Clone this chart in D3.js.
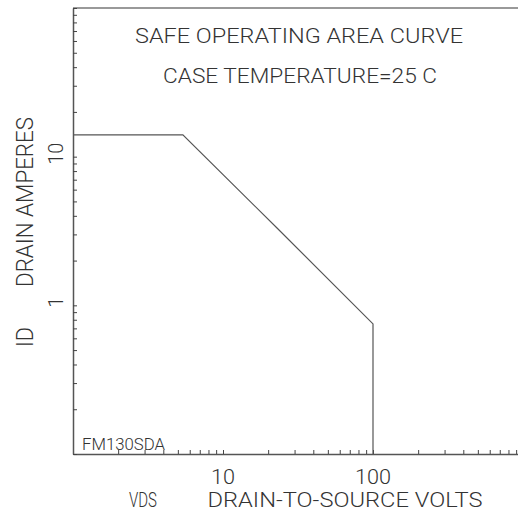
<!DOCTYPE html>
<html>
<head>
<meta charset="utf-8">
<title>Safe operating area curve</title>
<style>
  body { margin: 0; background: #fff; }
  text { font-family: Roboto, "DejaVu Sans", sans-serif; font-weight: 300; fill: #333; }
</style>
</head>
<body>
<svg width="518" height="518"></svg>
<script src="https://d3js.org/d3.v7.min.js"></script>
<script>
// curve corners
var vds = [1, 5.4, 23, 100, 100];
var drainAmps = [14, 14, 3.3, 0.75, 0.1];

var xLabels = [10, 100];
var yLabels = [1, 10];

var svg = d3.select("svg");

// plot box: x = 1 at the left axis, 1000 falls just past the window edge
var x = d3.scaleLog().domain([1, 1000]).range([73, 523]);
var y = d3.scaleLog().domain([0.1, 100]).range([454, 8]);

var axisColor = "#555";

// top frame line
svg.append("line")
    .attr("x1", x(1)).attr("x2", x(1000))
    .attr("y1", y(100)).attr("y2", y(100))
    .attr("stroke", "#777").attr("stroke-width", 1.5);

var gx = svg.append("g")
    .attr("transform", "translate(0," + y(0.1) + ")")
    .call(d3.axisBottom(x)
        .tickValues(x.ticks())
        .tickSizeInner(-4)
        .tickSizeOuter(0)
        .tickFormat(function() { return ""; }));
gx.select(".domain").attr("stroke", axisColor).attr("stroke-width", 1.5);
gx.selectAll(".tick line").attr("stroke", "#444").attr("stroke-width", 1);

var gy = svg.append("g")
    .attr("transform", "translate(" + x(1) + ",0)")
    .call(d3.axisLeft(y)
        .tickValues(y.ticks())
        .tickSizeInner(-4)
        .tickSizeOuter(0)
        .tickFormat(function() { return ""; }));
gy.select(".domain").attr("stroke", axisColor).attr("stroke-width", 1.5);
gy.selectAll(".tick line").attr("stroke", "#444").attr("stroke-width", 1);

// tick labels
svg.selectAll(".xlab")
    .data(xLabels)
  .enter().append("text")
    .attr("class", "xlab")
    .attr("x", function(d) { return x(d); })
    .attr("y", 484)
    .attr("text-anchor", "middle")
    .attr("font-size", 20)
    .attr("textLength", function(d) { return String(d).length * 12; })
    .attr("lengthAdjust", "spacingAndGlyphs")
    .text(function(d) { return d; });

svg.selectAll(".ylab")
    .data(yLabels)
  .enter().append("text")
    .attr("class", "ylab")
    .attr("transform", function(d) { return "translate(63," + (y(d) - 3) + ") rotate(-90)"; })
    .attr("text-anchor", "middle")
    .attr("font-size", 21)
    .attr("textLength", function(d) { return String(d).length * 11; })
    .attr("lengthAdjust", "spacingAndGlyphs")
    .text(function(d) { return d; });

// the curve
var line = d3.line()
    .x(function(d, i) { return x(vds[i]); })
    .y(function(d, i) { return y(drainAmps[i]); });

svg.append("path")
    .datum(vds)
    .attr("fill", "none")
    .attr("stroke", "#555")
    .attr("stroke-width", 1.2)
    .attr("d", line);

// titles
function label(txt, px, py, size, len, rot) {
  var t = svg.append("text")
      .attr("text-anchor", "middle")
      .attr("font-size", size)
      .attr("textLength", len)
      .attr("lengthAdjust", "spacingAndGlyphs")
      .text(txt);
  if (rot) t.attr("transform", "translate(" + px + "," + py + ") rotate(-90)");
  else t.attr("x", px).attr("y", py);
  return t;
}

label("SAFE OPERATING AREA CURVE", 299, 43, 21, 328);
label("CASE TEMPERATURE=25 C", 300, 83, 21, 274);
label("VDS", 143, 507, 20, 28);
label("DRAIN-TO-SOURCE VOLTS", 345, 507, 20, 275);
label("DRAIN AMPERES", 33, 202, 23, 170, true);
label("ID", 33, 337, 23, 20, true);

svg.append("text")
    .attr("x", 82).attr("y", 450)
    .attr("font-size", 17)
    .attr("textLength", 83)
    .attr("lengthAdjust", "spacingAndGlyphs")
    .text("FM130SDA");
</script>
</body>
</html>
